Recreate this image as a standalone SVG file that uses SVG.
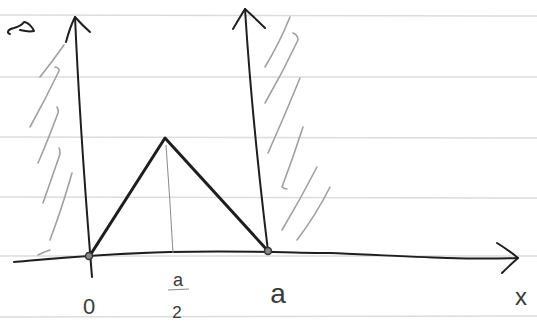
<svg xmlns="http://www.w3.org/2000/svg" width="537" height="322" viewBox="0 0 537 322">
<style>
.rule{stroke:#dcdcdc;stroke-width:1.6;fill:none}
.ink{stroke:#1e1e1e;stroke-width:2;fill:none;stroke-linecap:round;stroke-linejoin:round}
.thick{stroke:#1e1e1e;stroke-width:3;fill:none;stroke-linecap:round;stroke-linejoin:round}
.hatch{stroke:#a0a0a0;stroke-width:1.6;fill:none;stroke-linecap:round}
.thin{stroke:#8a8a8a;stroke-width:1;fill:none}
.lbl{font-family:"Liberation Sans",Arial,sans-serif;fill:#3a3a3a;text-anchor:middle}
.dot{stroke:#333;stroke-width:1.5;fill:#888}
</style>
<rect width="537" height="322" fill="#ffffff"/>
<g id="ruled-lines">
<path class="rule" d="M0 15 L537 16"/>
<path class="rule" d="M0 77 L537 77"/>
<path class="rule" d="M0 137 L537 138"/>
<path class="rule" d="M0 197 L537 198"/>
<path class="rule" d="M0 256 L537 256"/>
<path class="rule" d="M0 317 L537 316"/>
</g>
<g id="hatch-left">
<path class="hatch" d="M64 45 Q52 62 40 77"/>
<path class="hatch" d="M55 67 Q60 68 59 71 Q45 100 30 127"/>
<path class="hatch" d="M57 107 Q59 110 58 113 Q48 140 38 163"/>
<path class="hatch" d="M59 148 Q61 152 59 157 Q51 180 43 203"/>
<path class="hatch" d="M72 173 Q62 208 50 240"/>
<path class="hatch" d="M50 250 Q44 252 38 255"/>
</g>
<g id="hatch-right">
<path class="hatch" d="M290 17 Q280 42 265 67"/>
<path class="hatch" d="M293 33 Q298 35 298 40 Q283 72 265 103"/>
<path class="hatch" d="M300 78 Q285 115 268 153"/>
<path class="hatch" d="M303 127 Q293 158 282 187 Q284 189 287 189"/>
<path class="hatch" d="M317 167 Q300 200 282 230"/>
<path class="hatch" d="M330 187 Q316 215 297 240"/>
</g>
<g id="connectors">
<g id="x-axis">
<path class="ink" d="M14 262 C60 258 100 254 170 252 S300 253 330 253 C400 256 460 260 518 258"/>
<path class="ink" d="M497 243 Q510 251 518 258 Q510 265 502 273"/>
</g>
<g id="left-wall">
<path class="ink" d="M75 17 Q80 130 92 277"/>
<path class="ink" d="M66 42 Q70 27 75 17 Q82 25 90 32"/>
</g>
<g id="right-wall">
<path class="ink" d="M245 9 Q252 120 268 251"/>
<path class="ink" d="M233 29 Q240 17 245 9 Q255 18 265 28"/>
</g>
<path id="midline" class="thin" d="M166 145 Q170 200 173 253"/>
</g>
<g id="triangle">
<path class="thick" d="M89 257 L165 138 L268 251"/>
</g>
<g id="node-0">
<circle class="dot" cx="89" cy="256" r="3.5"/>
<text class="lbl" x="89" y="314" font-size="22">0</text>
</g>
<g id="node-a">
<circle class="dot" cx="268" cy="251" r="3.5"/>
<text class="lbl" x="278" y="303" font-size="28">a</text>
</g>
<g id="label-a-half">
<text class="lbl" x="178" y="286" font-size="18">a</text>
<path class="thin" d="M168 290 L189 289" stroke="#555"/>
<text class="lbl" x="177" y="318" font-size="17">2</text>
</g>
<g id="label-x">
<text class="lbl" x="521" y="305" font-size="24">x</text>
</g>
<g id="label-top">
<path class="ink" stroke-width="1.6" d="M10 34 C6 33 8 29 14 28 C18 27 22 25 24 22 C28 22 33 28 34 31 C30 32 24 31 20 30"/>
</g>
</svg>
